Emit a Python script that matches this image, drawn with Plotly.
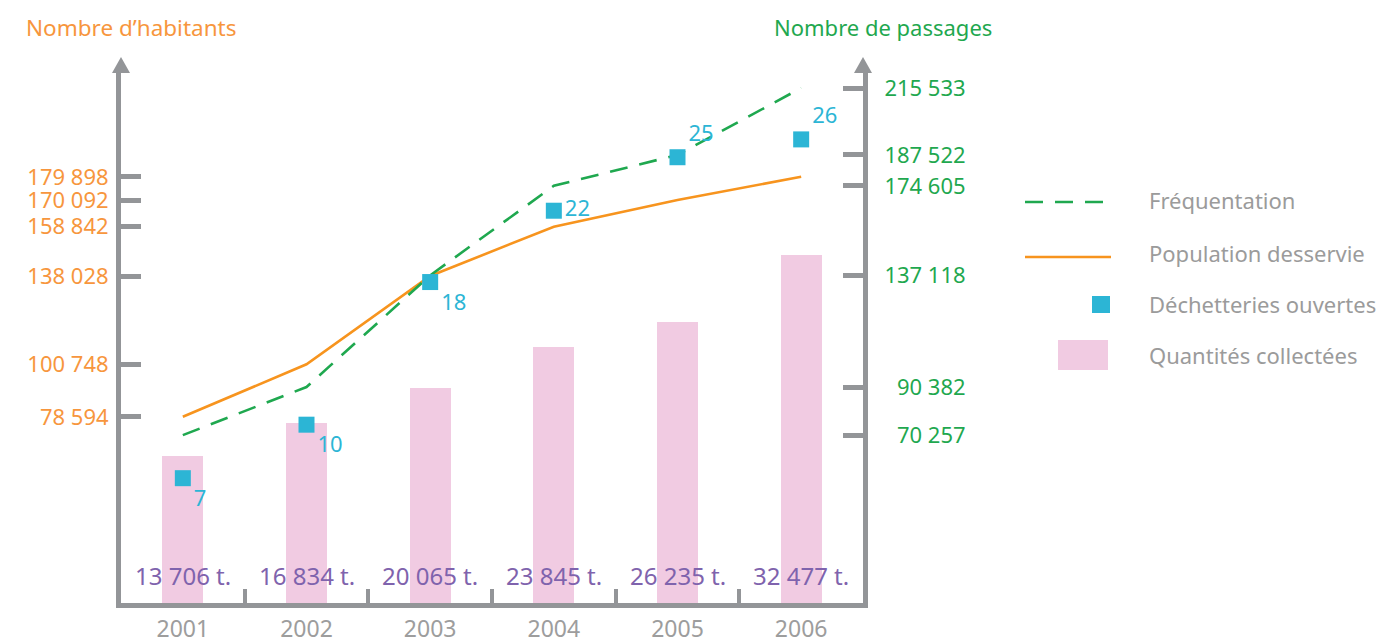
import plotly.graph_objects as go

# ---- data ----
years = ["2001", "2002", "2003", "2004", "2005", "2006"]
population = [78594, 100748, 138028, 158842, 170092, 179898]
frequentation = [70257, 90382, 137118, 174605, 187522, 215533]
dechetteries = [7, 10, 18, 22, 25, 26]
quantites = [13706, 16834, 20065, 23845, 26235, 32477]

# ---- style ----
GREY = "#939598"
ORANGE = "#f7941e"
ORANGE_TXT = "#f7963d"
GREEN = "#1fa84f"
CYAN = "#2cb5d5"
PINK = "#f1cbe2"
PURPLE = "#7f63ad"
LEG_TXT = "#9b9b9b"
FONT = "Noto Sans"

W, H = 1383, 641
L, R, T, B = 121, 520, 72, 38
PW, PH = W - L - R, H - T - B


def px(x):
    return (x - L) / PW


def py(y):
    return (H - B - y) / PH


def fmt(v):
    return f"{v:,}".replace(",", " ")


def pad(labels):
    n = max(len(s) for s in labels)
    return ["\u2007" * (n - len(s)) + s for s in labels]


fig = go.Figure()

fig.add_trace(go.Bar(
    x=years, y=quantites, yaxis="y", name="Quantités collectées",
    marker=dict(color=PINK, line=dict(width=0)), width=0.33,
    hoverinfo="x+y"))

fig.add_trace(go.Scatter(
    x=years, y=population, yaxis="y2", mode="lines", name="Population desservie",
    line=dict(color=ORANGE, width=2.6)))

fig.add_trace(go.Scatter(
    x=years, y=frequentation, yaxis="y3", mode="lines", name="Fréquentation",
    line=dict(color=GREEN, width=2.6, dash="18px,12px")))

fig.add_trace(go.Scatter(
    x=years, y=dechetteries, yaxis="y4", mode="markers+text", name="Déchetteries ouvertes",
    marker=dict(symbol="square", color=CYAN, size=16),
    text=[str(v) for v in dechetteries],
    textposition=["bottom right", "bottom right", "bottom right",
                  "middle right", "top right", "top right"],
    textfont=dict(family=FONT, size=22, color=CYAN)))

axis_common = dict(showgrid=False, zeroline=False, ticks="inside", ticklen=20,
                   tickwidth=5, tickcolor=GREY, showline=True, linecolor=GREY,
                   linewidth=5, tickmode="array", automargin=False)

fig.update_layout(
    width=W, height=H,
    margin=dict(l=L, r=R, t=T, b=B, autoexpand=False),
    paper_bgcolor="white", plot_bgcolor="white",
    showlegend=False,
    font=dict(family=FONT),
    bargap=0,
    xaxis=dict(type="category", categoryorder="array", categoryarray=years,
               range=[-0.5, 5.5], showline=True, linecolor=GREY, linewidth=5,
               ticks="inside", tickson="boundaries", ticklen=14, tickwidth=4,
               tickcolor=GREY, showgrid=False, zeroline=False, automargin=False,
               ticklabelstandoff=1,
               tickfont=dict(family=FONT, size=23, color="#9d9d9d")),
    yaxis=dict(range=[0, 49534], visible=False, showgrid=False, zeroline=False),
    yaxis2=dict(overlaying="y", side="left", anchor="x", range=[0, 224135],
                tickvals=population, ticktext=[fmt(v) for v in population],
                tickfont=dict(family=FONT, size=22, color=ORANGE_TXT),
                ticklabelstandoff=3, **axis_common),
    yaxis3=dict(overlaying="y", side="right", anchor="x", range=[0, 222231],
                tickvals=frequentation, ticktext=pad([fmt(v) for v in frequentation]),
                tickfont=dict(family=FONT, size=22, color=GREEN),
                ticklabelstandoff=12, **axis_common),
    yaxis4=dict(overlaying="y", range=[0, 29.78], visible=False,
                showgrid=False, zeroline=False),
)

shapes = []
# axis arrowheads
for xa in (0.0, 1.0):
    hw = 9 / PW
    shapes.append(dict(type="path", xref="paper", yref="paper",
                       path=f"M {xa - hw} {py(73)} L {xa} {py(57)} L {xa + hw} {py(73)} Z",
                       fillcolor=GREY, line=dict(width=0)))

# custom legend symbols
shapes.append(dict(type="line", xref="paper", yref="paper",
                   x0=px(1025), x1=px(1110), y0=py(202), y1=py(202),
                   line=dict(color=GREEN, width=2.6, dash="18px,12px")))
shapes.append(dict(type="line", xref="paper", yref="paper",
                   x0=px(1025), x1=px(1111), y0=py(257), y1=py(257),
                   line=dict(color=ORANGE, width=2.6)))
shapes.append(dict(type="rect", xref="paper", yref="paper",
                   x0=px(1092), x1=px(1110), y0=py(313), y1=py(296),
                   fillcolor=CYAN, line=dict(width=0)))
shapes.append(dict(type="rect", xref="paper", yref="paper",
                   x0=px(1058), x1=px(1108), y0=py(370), y1=py(340),
                   fillcolor=PINK, line=dict(width=0)))

annotations = []
legend_items = ["Fréquentation", "Population desservie",
                "Déchetteries ouvertes", "Quantités collectées"]
legend_y = [200, 253, 304, 355]
for txt, yy in zip(legend_items, legend_y):
    annotations.append(dict(xref="paper", yref="paper", x=px(1147), y=py(yy),
                            xanchor="left", yanchor="middle", showarrow=False,
                            text=txt, font=dict(family=FONT, size=22, color=LEG_TXT)))

# axis titles
annotations.append(dict(xref="paper", yref="paper", x=px(24), y=py(27),
                        xanchor="left", yanchor="middle", showarrow=False,
                        text="Nombre d’habitants",
                        font=dict(family=FONT, size=22.5, color=ORANGE_TXT)))
annotations.append(dict(xref="paper", yref="paper", x=px(772), y=py(27),
                        xanchor="left", yanchor="middle", showarrow=False,
                        text="Nombre de passages",
                        font=dict(family=FONT, size=22, color=GREEN)))

# bar value labels (centred on each category slot)
n = len(years)
for i, q in enumerate(quantites):
    annotations.append(dict(xref="paper", yref="paper", x=(i + 0.5) / n, y=py(575),
                            xanchor="center", yanchor="middle", showarrow=False,
                            text=f"{fmt(q)} t.",
                            font=dict(family=FONT, size=24, color=PURPLE)))

fig.update_layout(shapes=shapes, annotations=annotations)

fig.write_html("out.html", config={"displayModeBar": False},
               post_script="document.body.style.margin='0';")
